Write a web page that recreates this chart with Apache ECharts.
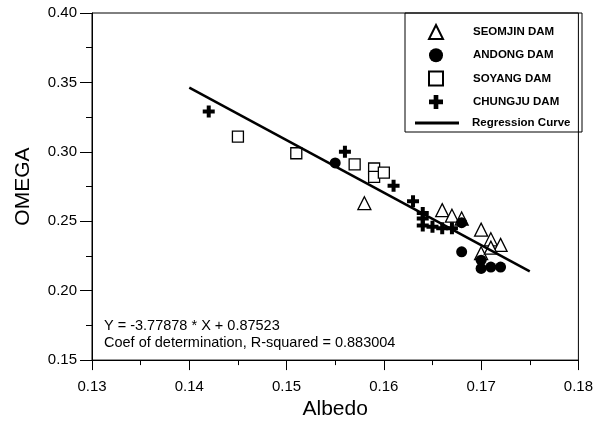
<!DOCTYPE html>
<html>
<head>
<meta charset="utf-8">
<script src="https://cdn.jsdelivr.net/npm/echarts@6/dist/echarts.min.js"></script>
<style>html,body{margin:0;padding:0;background:#fff}#c{width:596px;height:425px}</style>
</head>
<body>
<div id="c"></div>
<script>
// Albedo (x), OMEGA (y)
var seomjin = [[0.158,0.263],[0.166,0.258],[0.167,0.254],[0.168,0.252],[0.170,0.244],[0.171,0.237],[0.172,0.233],[0.170,0.227],[0.171,0.231]];
var andong = [[0.155,0.292],[0.168,0.249],[0.168,0.228],[0.170,0.222],[0.170,0.216],[0.171,0.217],[0.172,0.217]];
var soyang = [[0.145,0.311],[0.151,0.299],[0.157,0.291],[0.159,0.288],[0.159,0.282],[0.160,0.285]];
var chungju = [[0.142,0.329],[0.156,0.300],[0.161,0.2755],[0.163,0.2645],[0.164,0.256],[0.164,0.252],[0.164,0.247],[0.165,0.246],[0.166,0.245],[0.167,0.245]];
var regression = [[0.14,0.3462],[0.175,0.2139]];
var seriesNames = ['SEOMJIN DAM','ANDONG DAM','SOYANG DAM','CHUNGJU DAM','Regression Curve'];
var xTicks = {min:0.13, max:0.18, step:0.01};
var yTicks = {min:0.15, max:0.40, step:0.05};
var eqLines = ['Y = -3.77878 * X + 0.87523','Coef of determination, R-squared = 0.883004'];

var FONT = 'Arial, "Liberation Sans", sans-serif';
var plusPath = 'path://M4,0H8V4H12V8H8V12H4V8H0V4H4Z';
var legendText = {fontSize:11.5,fontWeight:'bold',color:'#000',fontFamily:FONT};
var chart = echarts.init(document.getElementById('c'), null, {renderer:'canvas'});
chart.setOption({
  animation:false,
  backgroundColor:'#fff',
  grid:{left:92,right:14,top:13,bottom:63,show:true,borderColor:'#000',borderWidth:1,backgroundColor:'transparent'},
  xAxis:{type:'value',min:xTicks.min,max:xTicks.max,interval:xTicks.step,
    name:'Albedo',nameLocation:'middle',nameGap:38,
    nameTextStyle:{fontSize:21,color:'#000',fontFamily:FONT},
    axisLine:{show:true,lineStyle:{color:'#000',width:1}},
    axisTick:{show:true,length:10,lineStyle:{color:'#000'}},
    minorTick:{show:true,splitNumber:2,length:5,lineStyle:{color:'#000'}},
    splitLine:{show:false},minorSplitLine:{show:false},
    axisLabel:{fontSize:15,color:'#000',fontFamily:FONT,margin:19,formatter:function(v){return v.toFixed(2);}}},
  yAxis:{type:'value',min:yTicks.min,max:yTicks.max,interval:yTicks.step,
    name:'OMEGA',nameLocation:'middle',nameGap:58,nameRotate:90,
    nameTextStyle:{fontSize:21,color:'#000',fontFamily:FONT},
    axisLine:{show:true,lineStyle:{color:'#000',width:1}},
    axisTick:{show:true,length:12,lineStyle:{color:'#000'}},
    minorTick:{show:true,splitNumber:2,length:6,lineStyle:{color:'#000'}},
    splitLine:{show:false},minorSplitLine:{show:false},
    axisLabel:{fontSize:15,color:'#000',fontFamily:FONT,margin:15,formatter:function(v){return v.toFixed(2);}}},
  legend:[
    {orient:'vertical',left:428,top:24,padding:0,itemWidth:14,itemHeight:14,itemGap:8.3,
      selectedMode:false,data:seriesNames.slice(0,4),
      textStyle:Object.assign({padding:[0,0,0,25]},legendText)},
    {orient:'vertical',left:415,top:117,padding:0,itemWidth:44,itemHeight:3,
      selectedMode:false,data:[{name:seriesNames[4],icon:'rect'}],
      textStyle:Object.assign({padding:[0,0,0,8]},legendText)}
  ],
  graphic:[
    {type:'rect',shape:{x:405,y:13,width:177,height:119},style:{fill:'transparent',stroke:'#000',lineWidth:1},z:10},
    {type:'text',left:104,top:318,style:{text:eqLines[0],fontSize:14.5,fill:'#000',fontFamily:FONT},z:10},
    {type:'text',left:104,top:335,style:{text:eqLines[1],fontSize:14.5,fill:'#000',fontFamily:FONT},z:10}
  ],
  series:[
    {name:seriesNames[0],type:'scatter',data:seomjin,symbol:'triangle',symbolSize:13,
      itemStyle:{color:'#fff',borderColor:'#000',borderWidth:1.3,opacity:1}},
    {name:seriesNames[1],type:'scatter',data:andong,symbol:'circle',symbolSize:11,
      itemStyle:{color:'#000',borderColor:'#000',borderWidth:0,opacity:1}},
    {name:seriesNames[2],type:'scatter',data:soyang,symbol:'rect',symbolSize:11,
      itemStyle:{color:'#fff',borderColor:'#000',borderWidth:1.3,opacity:1}},
    {name:seriesNames[3],type:'scatter',data:chungju,symbol:plusPath,symbolSize:12,
      itemStyle:{color:'#000',borderWidth:0,opacity:1}},
    {name:seriesNames[4],type:'line',data:regression,symbol:'none',showSymbol:false,
      lineStyle:{color:'#000',width:2.5},itemStyle:{color:'#000'},z:3}
  ]
});
</script>
</body>
</html>
